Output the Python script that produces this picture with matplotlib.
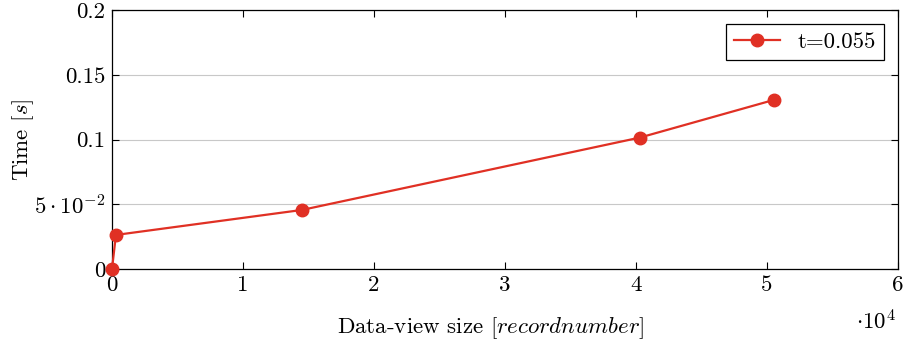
import matplotlib.pyplot as plt
import numpy as np

plt.rcParams['font.family'] = ['cmr10', 'DejaVu Serif']
plt.rcParams['mathtext.fontset'] = 'cm'
plt.rcParams['axes.formatter.use_mathtext'] = True

# data
sizes = [0, 300, 14500, 40300, 50500]
times = [0.0, 0.0263, 0.0456, 0.1015, 0.1305]
x_ticks = [0, 10000, 20000, 30000, 40000, 50000, 60000]
x_labels = ['0', '1', '2', '3', '4', '5', '6']
y_ticks = [0, 0.05, 0.1, 0.15, 0.2]
y_labels = ['0', r'$5\cdot10^{-2}$', '0.1', '0.15', '0.2']

fs = 16.5
fig = plt.figure(figsize=(9.14, 3.44), dpi=100)
ax = fig.add_axes([112/914, 75/344, 786/914, 259/344])

ax.plot(sizes, times, color='#e03024', lw=1.6, marker='o', ms=9,
        label='t=0.055', clip_on=False, zorder=3)

ax.set_xlim(0, 60000)
ax.set_ylim(0, 0.2)
ax.set_xticks(x_ticks)
ax.set_xticklabels(x_labels)
ax.set_yticks(y_ticks)
ax.set_yticklabels(y_labels)
ax.tick_params(direction='in', top=True, right=True, labelsize=fs, length=5, pad=5)
ax.yaxis.grid(True, color='#c8c8c8', lw=0.8)
ax.set_axisbelow(True)
for s in ax.spines.values():
    s.set_linewidth(0.9)

ax.set_xlabel(r'Data-view size [$recordnumber$]', fontsize=fs)
ax.set_ylabel(r'Time [$s$]', fontsize=fs)
ax.xaxis.set_label_coords(0.482, -0.178)
ax.yaxis.set_label_coords(-0.097, 0.5)
fig.text(856/914, 10/344, r'$\cdot10^4$', fontsize=fs, ha='left', va='bottom')

leg = ax.legend(loc='upper right', fontsize=fs, fancybox=False, framealpha=1,
                edgecolor='black', borderaxespad=0.6, handlelength=2.0,
                borderpad=0.35)
leg.get_frame().set_linewidth(0.9)

fig.savefig('out.png', dpi=100)
